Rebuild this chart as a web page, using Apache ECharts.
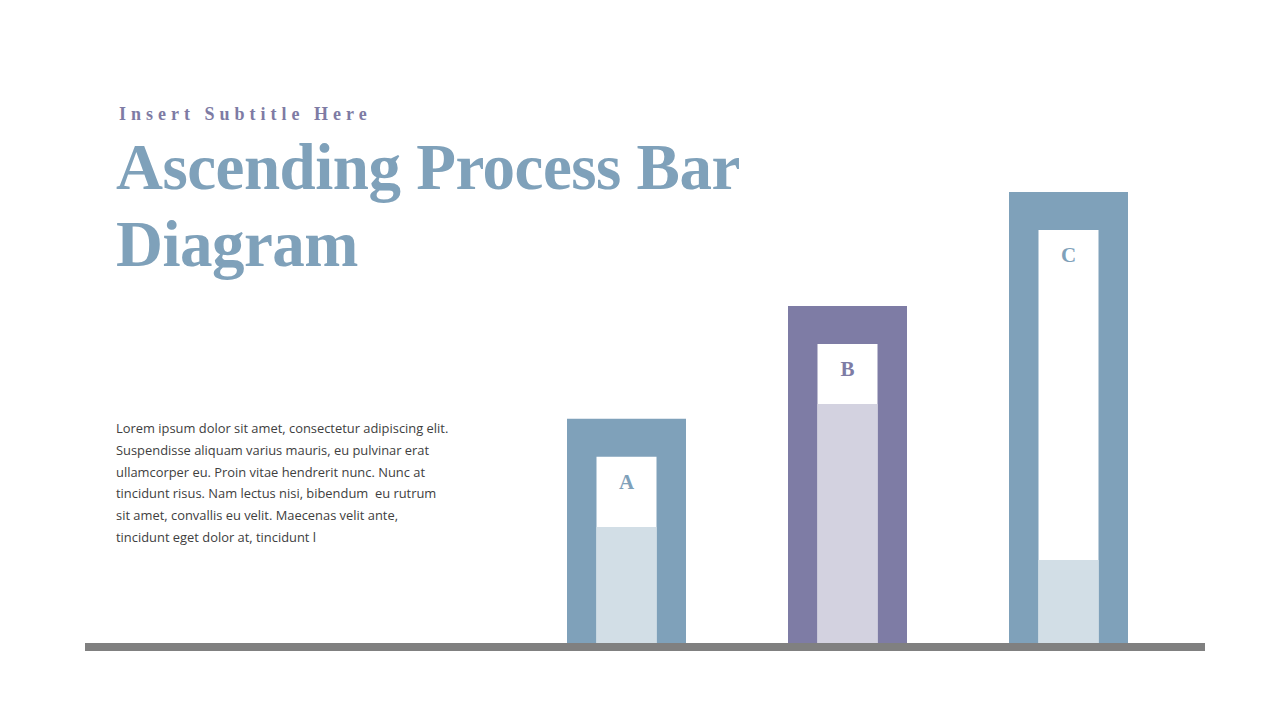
<!DOCTYPE html>
<html>
<head>
<meta charset="utf-8">
<script src="https://cdn.jsdelivr.net/npm/echarts@6/dist/echarts.min.js"></script>
<style>
html,body{margin:0;padding:0;background:#fff;}
#chart{width:1280px;height:720px;}
</style>
</head>
<body>
<div id="chart"></div>
<script>
// ---- data ----
var categories = ['A', 'B', 'C'];
var outerValues = [49.7, 74.7, 100];  // outer frame height
var innerValues = [41.3, 66.3, 91.6]; // white window height
var fillValues = [25.7, 53.0, 18.4];  // light progress fill height
var frameColors = ['#7FA1BA', '#7E7CA5', '#7FA1BA'];
var fillColors = ['#D2DEE6', '#D3D2E0', '#D2DEE6'];
var subtitle = 'Insert Subtitle Here';
var titleLines = ['Ascending Process Bar', 'Diagram'];
var bodyLines = [
  'Lorem ipsum dolor sit amet, consectetur adipiscing elit.',
  'Suspendisse aliquam varius mauris, eu pulvinar erat',
  'ullamcorper eu. Proin vitae hendrerit nunc. Nunc at',
  'tincidunt risus. Nam lectus nisi, bibendum  eu rutrum',
  'sit amet, convallis eu velit. Maecenas velit ante,',
  'tincidunt eget dolor at, tincidunt l'
];

var chart = echarts.init(document.getElementById('chart'), null, {renderer: 'svg'});

var option = {
  animation: false,
  backgroundColor: '#ffffff',
  grid: {left: 516, right: 101, top: 192, bottom: 77},
  xAxis: [
    {type: 'category', data: categories, show: false},
    {type: 'category', data: categories, show: false, gridIndex: 0}
  ],
  yAxis: {type: 'value', min: 0, max: 100, show: false},
  series: [
    {
      type: 'bar', xAxisIndex: 0, barWidth: 119,
      data: outerValues.map(function (v, i) { return {value: v, itemStyle: {color: frameColors[i]}}; })
    },
    {
      type: 'bar', xAxisIndex: 1, barWidth: 60, barGap: '-100%',
      data: innerValues.map(function (v, i) {
        return {value: v, itemStyle: {color: '#ffffff'},
          label: {show: true, color: frameColors[i], formatter: categories[i]}};
      }),
      label: {
        show: true, position: 'insideTop', distance: 15,
        fontFamily: 'Liberation Serif', fontWeight: 'bold', fontSize: 21
      }
    },
    {
      type: 'bar', xAxisIndex: 1, barWidth: 60, barGap: '-100%',
      data: fillValues.map(function (v, i) { return {value: v, itemStyle: {color: fillColors[i]}}; })
    }
  ],
  graphic: [
    {type: 'rect', shape: {x: 85, y: 643, width: 1120, height: 8}, style: {fill: '#808080'}, z: 10},
    {type: 'text', x: 119, y: 114, style: {text: subtitle, fill: '#7E7BA4',
      fontFamily: 'Liberation Serif', fontWeight: 'bold', fontSize: 18,
      textAlign: 'left', textVerticalAlign: 'middle'}},
    {type: 'text', x: 116, y: 205, style: {text: titleLines.join('\n'), fill: '#7FA1BA',
      fontFamily: 'Liberation Serif', fontWeight: 'bold', fontSize: 65, lineHeight: 77,
      textAlign: 'left', textVerticalAlign: 'middle'}},
    {type: 'text', x: 116, y: 482.5, style: {text: bodyLines.join('\n'), fill: '#404040',
      fontFamily: 'Open Sans', fontSize: 12.9, lineHeight: 21.8,
      textAlign: 'left', textVerticalAlign: 'middle'}}
  ]
};
chart.setOption(option);

function spaceSubtitle() {
  var texts = document.querySelectorAll('#chart text');
  texts.forEach(function (t) {
    if (t.textContent === subtitle) t.setAttribute('letter-spacing', '5px');
    if (t.textContent === titleLines[0] || t.textContent === titleLines[1]) t.setAttribute('letter-spacing', '-0.5px');
  });
}
spaceSubtitle();
chart.on('finished', spaceSubtitle);
setTimeout(spaceSubtitle, 0);
</script>
</body>
</html>
